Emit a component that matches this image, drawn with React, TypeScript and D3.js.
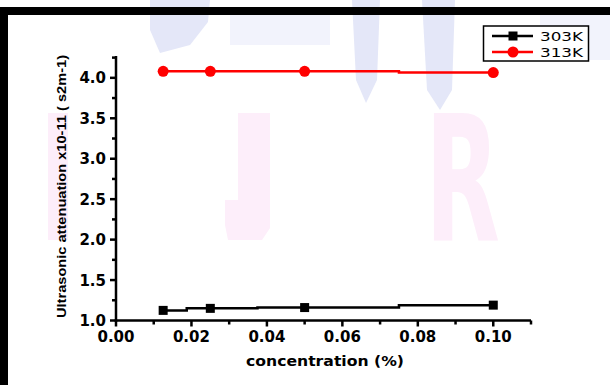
import React from "react";
import * as d3 from "d3";

const concentration = [0.0125, 0.025, 0.05, 0.1];
const att303K = [1.125, 1.15, 1.16, 1.19];
const att313K = [4.08, 4.08, 4.08, 4.065];
const seriesNames = ["303K", "313K"];
const xMajorTicks = [0, 0.02, 0.04, 0.06, 0.08, 0.1];
const xMinorTicks = [0.01, 0.03, 0.05, 0.07, 0.09, 0.11];
const yMajorTicks = [1.0, 1.5, 2.0, 2.5, 3.0, 3.5, 4.0];
const yMinorTicks = [1.25, 1.75, 2.25, 2.75, 3.25, 3.75, 4.25];
const xTitle = "concentration (%)";
const yTitle = "Ultrasonic attenuation x10-11 ( s2m-1)";

export default function App() {
  const W = 610, H = 385;
  const x = d3.scaleLinear().domain([0, 0.11]).range([116, 531]);
  const y = d3.scaleLinear().domain([1, 4.27]).range([320.5, 56]);
  const line = d3
    .line<[number, number]>()
    .x((d) => x(d[0]))
    .y((d) => y(d[1]))
    .curve(d3.curveStep);
  const d303 = concentration.map((c, i) => [c, att303K[i]] as [number, number]);
  const d313 = concentration.map((c, i) => [c, att313K[i]] as [number, number]);
  const bold = "'DejaVu Sans', sans-serif";
  const pink = "#fdeefa";
  const blue = "#e4e7f8";
  const blueLight = "#f2f3fc";

  return (
    <svg width={W} height={H} style={{ position: "absolute", left: 0, top: 0 }}>
      <rect x={0} y={0} width={W} height={H} fill="#fff" />
      {/* faint watermark */}
      <g>
        <path d="M150,0 L210,0 L208,22 L190,45 L160,53 L150,30 Z" fill={blue} />
        <path d="M230,15 L330,15 L330,45 L230,45 Z" fill={blueLight} />
        <path d="M352,0 L380,0 L377,80 L366,103 L356,80 Z" fill={blue} />
        <path d="M422,0 L455,0 L452,90 L440,110 L427,90 Z" fill={blue} />
        <path d="M540,15 L610,15 L610,60 L540,60 Z" fill={blueLight} />
        <rect x={48} y={113} width={20} height={127} fill={pink} />
        <path d="M238,113 L270,113 L270,228 L262,240 L228,240 L225,225 L225,200 L238,200 Z" fill={pink} />
        <text
          x={425}
          y={240}
          fontFamily={bold}
          fontWeight="bold"
          fontSize={174}
          fill={pink}
          textLength={75}
          lengthAdjust="spacingAndGlyphs"
        >
          R
        </text>
      </g>
      {/* frame */}
      <rect x={0} y={7} width={W} height={8} fill="#000" />
      <rect x={0} y={7} width={8} height={H - 7} fill="#000" />

      {/* axes */}
      <g stroke="#000" strokeWidth={2.5}>
        <line x1={x(0)} x2={x(0)} y1={y(4.27)} y2={y(1) + 1.25} />
        <line x1={x(0) - 1.25} x2={x(0.11)} y1={y(1)} y2={y(1)} />
        {xMajorTicks.map((t) => (
          <line key={"xM" + t} x1={x(t)} x2={x(t)} y1={y(1)} y2={y(1) + 6} />
        ))}
        {xMinorTicks.map((t) => (
          <line key={"xm" + t} x1={x(t)} x2={x(t)} y1={y(1)} y2={y(1) + 4} />
        ))}
        {yMajorTicks.map((t) => (
          <line key={"yM" + t} x1={x(0) - 6} x2={x(0)} y1={y(t)} y2={y(t)} />
        ))}
        {yMinorTicks.map((t) => (
          <line key={"ym" + t} x1={x(0) - 4} x2={x(0)} y1={y(t)} y2={y(t)} />
        ))}
      </g>
      <g fontFamily={bold} fontWeight="bold" fontSize={15} fill="#000">
        {xMajorTicks.map((t) => (
          <text key={"xl" + t} x={x(t)} y={342} textAnchor="middle">
            {d3.format(".2f")(t)}
          </text>
        ))}
        {yMajorTicks.map((t) => (
          <text key={"yl" + t} x={106} y={y(t) + 5.5} textAnchor="end">
            {d3.format(".1f")(t)}
          </text>
        ))}
      </g>
      <text
        x={325}
        y={366}
        textAnchor="middle"
        fontFamily={bold}
        fontWeight="bold"
        fontSize={14.5}
        textLength={158}
        lengthAdjust="spacingAndGlyphs"
      >
        {xTitle}
      </text>
      <text
        transform="translate(66,186.5) rotate(-90)"
        textAnchor="middle"
        fontFamily="'Liberation Sans', Arial, sans-serif"
        fontWeight="bold"
        fontSize={13}
        textLength={263}
        lengthAdjust="spacingAndGlyphs"
      >
        {yTitle}
      </text>

      {/* series */}
      <path d={line(d303) || ""} fill="none" stroke="#000" strokeWidth={2.5} />
      {d303.map((p, i) => (
        <rect key={"s" + i} x={x(p[0]) - 4.5} y={y(p[1]) - 4.5} width={9} height={9} fill="#000" />
      ))}
      <path d={line(d313) || ""} fill="none" stroke="#ff0000" strokeWidth={2.5} />
      {d313.map((p, i) => (
        <circle key={"c" + i} cx={x(p[0])} cy={y(p[1])} r={5.5} fill="#ff0000" />
      ))}

      {/* legend */}
      <rect x={483.5} y={26} width={105} height={35} fill="#fff" stroke="#000" strokeWidth={1.5} />
      {seriesNames.map((name, i) => {
        const ly = i === 0 ? 36 : 52;
        const col = i === 0 ? "#000" : "#ff0000";
        return (
          <g key={name}>
            <line x1={492} x2={533} y1={ly} y2={ly} stroke={col} strokeWidth={2.5} />
            {i === 0 ? (
              <rect x={508.5} y={ly - 4.5} width={9} height={9} fill={col} />
            ) : (
              <circle cx={513} cy={ly} r={5.5} fill={col} />
            )}
            <text
              x={540}
              y={ly + 5}
              fontFamily="'DejaVu Sans', sans-serif"
              fontSize={13}
              textLength={43}
              lengthAdjust="spacingAndGlyphs"
            >
              {name}
            </text>
          </g>
        );
      })}
    </svg>
  );
}
